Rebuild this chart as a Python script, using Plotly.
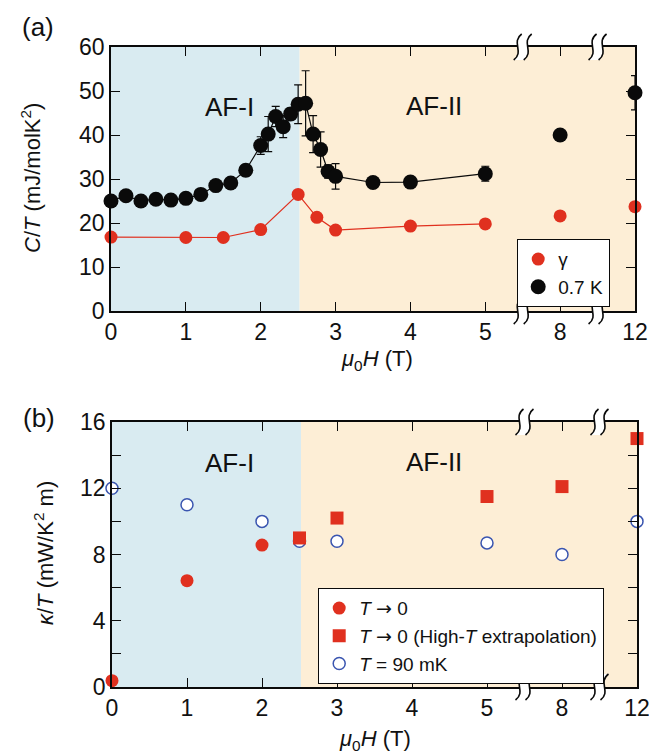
import plotly.graph_objects as go

# ---------------- data ----------------
# panel (a): C/T vs field
H_07K = [0, 0.2, 0.4, 0.6, 0.8, 1.0, 1.2, 1.4, 1.6, 1.8, 2.0, 2.1, 2.2, 2.3, 2.4,
         2.5, 2.6, 2.7, 2.8, 2.9, 3.0, 3.5, 4.0, 5.0, 8, 12]
C_07K = [25.0, 26.2, 25.0, 25.4, 25.2, 25.6, 26.5, 28.5, 29.1, 32.0, 37.6, 40.2, 44.2, 41.9, 44.8,
         47.0, 47.2, 40.2, 36.7, 31.7, 30.6, 29.2, 29.3, 31.2, 40.0, 49.6]
C_07K_err = [0.6, 0.6, 0.6, 0.6, 0.6, 0.6, 0.7, 0.8, 0.8, 1.3, 2.0, 4.0, 2.3, 2.5, 1.3,
             4.4, 7.4, 4.2, 4.0, 1.5, 2.9, 1.0, 1.2, 1.7, 0.5, 3.9]
H_gamma = [0, 1, 1.5, 2, 2.5, 2.75, 3, 4, 5, 8, 12]
gamma = [16.8, 16.7, 16.7, 18.5, 26.5, 21.3, 18.4, 19.3, 19.8, 21.6, 23.7]

# panel (b): kappa/T vs field
H_kT0 = [0, 1, 2]
kT0 = [0.38, 6.42, 8.57]
H_kHT = [2.5, 3, 5, 8, 12]
kHT = [9.0, 10.2, 11.5, 12.1, 15.0]
H_k90 = [0, 1, 2, 2.5, 3, 5, 8, 12]
k90 = [12.0, 11.0, 10.0, 8.8, 8.8, 8.7, 8.0, 10.0]

x_tick_pos = [0, 1, 2, 3, 4, 5, 6, 7]
x_tick_text = ['0', '1', '2', '3', '4', '5', '8', '12']
H_boundary = 2.52

# broken axis: 8 T -> 6, 12 T -> 7
BREAK_MAP = {8: 6, 12: 7}


def pos(hs):
    return [BREAK_MAP.get(h, h) if h > 5 else h for h in hs]


RED = '#e0301f'
BLACK = '#0a0a0a'
BLUE = '#3a55b0'
BG_I = '#d9ebf1'
BG_II = '#fdeed6'
FONT = 'Arial, Liberation Sans, sans-serif'
W, Hpx = 649, 754
ARROW = '<span style="font-family:DejaVu Sans">→</span>'

fig = go.Figure()

# ---- panel (a) ----
lim = [i for i, h in enumerate(H_07K) if h <= 5]
fig.add_trace(go.Scatter(x=pos([H_07K[i] for i in lim]), y=[C_07K[i] for i in lim],
                         mode='lines', line=dict(color=BLACK, width=1.2), showlegend=False,
                         xaxis='x', yaxis='y', cliponaxis=False, hoverinfo='skip'))
limg = [i for i, h in enumerate(H_gamma) if h <= 5]
fig.add_trace(go.Scatter(x=pos([H_gamma[i] for i in limg]), y=[gamma[i] for i in limg],
                         mode='lines', line=dict(color=RED, width=1.2), showlegend=False,
                         xaxis='x', yaxis='y', cliponaxis=False, hoverinfo='skip'))
fig.add_trace(go.Scatter(x=pos(H_gamma), y=gamma, mode='markers', name='γ',
                         marker=dict(color=RED, size=13), legend='legend',
                         xaxis='x', yaxis='y', cliponaxis=False))
fig.add_trace(go.Scatter(x=pos(H_07K), y=C_07K, mode='markers', name='0.7 K',
                         marker=dict(color=BLACK, size=15), legend='legend',
                         error_y=dict(type='data', array=C_07K_err, color=BLACK, thickness=1.2, width=4),
                         xaxis='x', yaxis='y', cliponaxis=False))

# ---- panel (b) ----
fig.add_trace(go.Scatter(x=pos(H_kT0), y=kT0, mode='markers', name='<i>T</i> ' + ARROW + ' 0',
                         marker=dict(color=RED, size=13), legend='legend2', legendrank=1,
                         xaxis='x2', yaxis='y2', cliponaxis=False))
fig.add_trace(go.Scatter(x=pos(H_k90), y=k90, mode='markers', name='<i>T</i> = 90 mK',
                         marker=dict(color='white', size=12, line=dict(color=BLUE, width=1.5)),
                         legend='legend2', legendrank=3,
                         xaxis='x2', yaxis='y2', cliponaxis=False))
fig.add_trace(go.Scatter(x=pos(H_kHT), y=kHT, mode='markers',
                         name='<i>T</i> ' + ARROW + ' 0 (High-<i>T</i> extrapolation)',
                         marker=dict(color=RED, size=13, symbol='square'), legend='legend2', legendrank=2,
                         xaxis='x2', yaxis='y2', cliponaxis=False))

# domains from pixels
xa_dom = [111 / W, 635 / W]
ya_dom = [1 - 311 / Hpx, 1 - 47 / Hpx]
xb_dom = [112 / W, 637 / W]
yb_dom = [1 - 687 / Hpx, 1 - 422 / Hpx]

axis_common = dict(showline=True, linecolor=BLACK, linewidth=1.5, mirror='allticks',
                   ticks='inside', ticklen=9, tickwidth=1.3, tickcolor=BLACK,
                   showgrid=False, zeroline=False, ticklabeloverflow='allow',
                   tickfont=dict(family=FONT, size=23, color='#111'))

layout = dict(
    width=W, height=Hpx, margin=dict(l=0, r=0, t=0, b=0),
    template='none', paper_bgcolor='white', plot_bgcolor='white',
    xaxis=dict(domain=xa_dom, range=[0, 7], anchor='y', tickvals=x_tick_pos, ticktext=x_tick_text,
               **axis_common),
    yaxis=dict(domain=ya_dom, range=[0, 60], anchor='x', dtick=10, **axis_common),
    xaxis2=dict(domain=xb_dom, range=[0, 7], anchor='y2', tickvals=x_tick_pos, ticktext=x_tick_text,
                **axis_common),
    yaxis2=dict(domain=yb_dom, range=[0, 16], anchor='x2', tickvals=list(range(0, 17, 2)),
                ticktext=[str(v) if v % 4 == 0 else '' for v in range(0, 17, 2)], **axis_common),
    legend=dict(x=517 / W, y=1 - 239 / Hpx, xanchor='left', yanchor='top',
                bgcolor='white', bordercolor=BLACK, borderwidth=1.2,
                font=dict(family=FONT, size=19, color='#111'), tracegroupgap=0, itemwidth=30),
    legend2=dict(x=318 / W, y=1 - 588 / Hpx, xanchor='left', yanchor='top',
                 bgcolor='white', bordercolor=BLACK, borderwidth=1.2,
                 font=dict(family=FONT, size=19, color='#111'), tracegroupgap=0, itemwidth=30),
)
fig.update_layout(**layout)

shapes = []
# phase backgrounds
for xr, yr, ymax in (('x', 'y', 60), ('x2', 'y2', 16)):
    shapes.append(dict(type='rect', xref=xr, yref=yr, x0=0, x1=H_boundary, y0=0, y1=ymax,
                       fillcolor=BG_I, line=dict(width=0), layer='below'))
    shapes.append(dict(type='rect', xref=xr, yref=yr, x0=H_boundary, x1=7, y0=0, y1=ymax,
                       fillcolor=BG_II, line=dict(width=0), layer='below'))


# axis break marks (drawn in pixel space, converted to paper)
def px(xp, yp):
    return xp / W, 1 - yp / Hpx


def curve_pts(cx, cy):
    return [(cx + 4, cy - 13), (cx - 7, cy - 5), (cx + 7, cy + 5), (cx - 4, cy + 13)]


def squiggle_path(cx, cy):
    p = [px(*q) for q in curve_pts(cx, cy)]
    return 'M {:.5f},{:.5f} C {:.5f},{:.5f} {:.5f},{:.5f} {:.5f},{:.5f}'.format(
        p[0][0], p[0][1], p[1][0], p[1][1], p[2][0], p[2][1], p[3][0], p[3][1])


def fill_path(cx, cy, gap):
    pa = [px(*q) for q in curve_pts(cx - gap, cy)]
    pb = [px(*q) for q in reversed(curve_pts(cx + gap, cy))]
    s = 'M {:.5f},{:.5f} C {:.5f},{:.5f} {:.5f},{:.5f} {:.5f},{:.5f} '.format(
        pa[0][0], pa[0][1], pa[1][0], pa[1][1], pa[2][0], pa[2][1], pa[3][0], pa[3][1])
    s += 'L {:.5f},{:.5f} C {:.5f},{:.5f} {:.5f},{:.5f} {:.5f},{:.5f} Z'.format(
        pb[0][0], pb[0][1], pb[1][0], pb[1][1], pb[2][0], pb[2][1], pb[3][0], pb[3][1])
    return s


for dom_x, top_px, bot_px in ((xa_dom, 47, 311), (xb_dom, 422, 687)):
    x0p, x1p = dom_x[0] * W, dom_x[1] * W
    for brk in (5.5, 6.5):
        cxp = x0p + (x1p - x0p) * brk / 7
        for cyp in (top_px, bot_px):
            gap = 5
            shapes.append(dict(type='path', xref='paper', yref='paper', path=fill_path(cxp, cyp, gap),
                               fillcolor='white', line=dict(width=0), layer='above'))
            for off in (-gap, gap):
                shapes.append(dict(type='path', xref='paper', yref='paper',
                                   path=squiggle_path(cxp + off, cyp),
                                   line=dict(color=BLACK, width=1.6), layer='above'))
fig.update_layout(shapes=shapes)

ann_font = dict(family=FONT, size=22, color='#111')
annotations = [
    dict(text='(a)', x=38 / W, y=1 - 27 / Hpx, xref='paper', yref='paper', showarrow=False,
         font=dict(family=FONT, size=26, color='#111'), xanchor='center', yanchor='middle'),
    dict(text='(b)', x=39 / W, y=1 - 418 / Hpx, xref='paper', yref='paper', showarrow=False,
         font=dict(family=FONT, size=26, color='#111'), xanchor='center', yanchor='middle'),
    dict(text='AF-I', x=203 / W, y=1 - 90 / Hpx, xref='paper', yref='paper', showarrow=False,
         font=dict(family=FONT, size=26, color='#111')),
    dict(text='AF-II', x=464 / W, y=1 - 89 / Hpx, xref='paper', yref='paper', showarrow=False,
         font=dict(family=FONT, size=26, color='#111')),
    dict(text='AF-I', x=203 / W, y=1 - 463 / Hpx, xref='paper', yref='paper', showarrow=False,
         font=dict(family=FONT, size=26, color='#111')),
    dict(text='AF-II', x=464 / W, y=1 - 462 / Hpx, xref='paper', yref='paper', showarrow=False,
         font=dict(family=FONT, size=26, color='#111')),
    dict(text='<i>C</i>/<i>T</i> (mJ/molK<sup>2</sup>)', x=31 / W, y=1 - 178 / Hpx,
         xref='paper', yref='paper', showarrow=False, textangle=-90, font=ann_font,
         xanchor='center', yanchor='middle'),
    dict(text='<i>κ</i>/<i>T</i> (mW/K<sup>2</sup> m)', x=44 / W, y=1 - 553 / Hpx,
         xref='paper', yref='paper', showarrow=False, textangle=-90, font=ann_font,
         xanchor='center', yanchor='middle'),
    dict(text='<i>μ</i><sub>0</sub><i>H</i> (T)', x=377 / W, y=1 - 360 / Hpx,
         xref='paper', yref='paper', showarrow=False, font=ann_font,
         xanchor='center', yanchor='middle'),
    dict(text='<i>μ</i><sub>0</sub><i>H</i> (T)', x=375 / W, y=1 - 740 / Hpx,
         xref='paper', yref='paper', showarrow=False, font=ann_font,
         xanchor='center', yanchor='middle'),
]
fig.update_layout(annotations=annotations)

fig.write_html('out.html')
